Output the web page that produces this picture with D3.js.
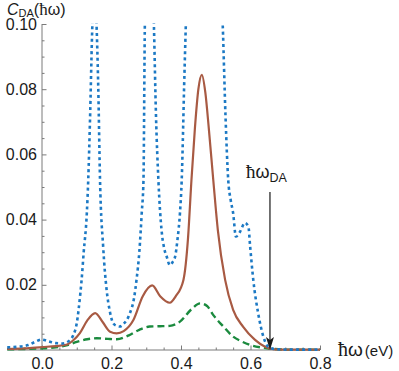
<!DOCTYPE html>
<html><head><meta charset="utf-8">
<script src="https://cdn.jsdelivr.net/npm/d3@7"></script>
<style>
body{margin:0;background:#fff;}
svg{display:block;font-family:"Liberation Sans",Arial,sans-serif;}
</style></head>
<body>
<svg id="c" width="399" height="371"></svg>
<script>
// Data
const blueX = [-0.10,-0.07,-0.04,-0.02,0.00,0.02,0.04,0.06,0.08,0.09,0.10,0.11,0.114,0.12,0.129,0.133,0.138,0.145,0.15,0.155,0.162,0.167,0.176,0.186,0.195,0.205,0.215,0.224,0.235,0.253,0.265,0.272,0.28,0.287,0.292,0.296,0.303,0.31,0.316,0.322,0.328,0.335,0.344,0.352,0.359,0.368,0.376,0.383,0.39,0.397,0.402,0.41,0.42,0.44,0.47,0.50,0.512,0.52,0.528,0.536,0.543,0.55,0.558,0.57,0.584,0.594,0.599,0.608,0.622,0.637,0.651,0.67,0.72,0.80];
const blueY = [0.0008,0.0010,0.0015,0.0025,0.0032,0.0026,0.0021,0.0020,0.0030,0.0045,0.0082,0.0170,0.0215,0.0300,0.0420,0.0520,0.0700,0.1000,0.1120,0.1050,0.0800,0.0520,0.0317,0.0184,0.0120,0.0082,0.0074,0.0072,0.0080,0.0113,0.0160,0.0215,0.0300,0.0420,0.0520,0.1000,0.1250,0.1320,0.1250,0.1000,0.0720,0.0520,0.0368,0.0310,0.0286,0.0260,0.0270,0.0286,0.0340,0.0420,0.0520,0.0850,0.1200,0.1500,0.1600,0.1450,0.1200,0.1000,0.0720,0.0520,0.0460,0.0420,0.0348,0.0363,0.0390,0.0378,0.0317,0.0215,0.0113,0.0041,0.0010,0.0003,0.0001,0.0001];

const brownX = [-0.10,-0.05,0.00,0.04,0.07,0.09,0.109,0.13,0.153,0.175,0.196,0.215,0.235,0.263,0.29,0.317,0.34,0.368,0.385,0.407,0.42,0.43,0.44,0.45,0.46,0.47,0.48,0.493,0.506,0.527,0.55,0.579,0.613,0.642,0.67,0.72,0.80];
const brownY = [0.0003,0.0005,0.0009,0.0012,0.0016,0.0030,0.0052,0.0090,0.0113,0.0085,0.0056,0.0051,0.0058,0.0092,0.0165,0.0198,0.0165,0.0145,0.0165,0.0215,0.0340,0.0520,0.0680,0.0800,0.0844,0.0790,0.0680,0.0520,0.0368,0.0215,0.0123,0.0071,0.0031,0.0010,0.0002,0.0001,0.0001];

const greenX = [-0.10,-0.05,0.00,0.04,0.07,0.10,0.13,0.158,0.19,0.215,0.25,0.28,0.31,0.34,0.368,0.397,0.43,0.455,0.475,0.493,0.522,0.55,0.575,0.60,0.63,0.66,0.72,0.80];
const greenY = [0.0002,0.0003,0.0005,0.0008,0.0014,0.0025,0.0033,0.0036,0.0034,0.0033,0.0045,0.0062,0.0072,0.0073,0.0074,0.0087,0.0125,0.0143,0.0135,0.0107,0.0072,0.0041,0.0026,0.0015,0.0008,0.0004,0.0001,0.0001];

const yMajorTicks = [0.02,0.04,0.06,0.08,0.10];
const xMajorTicks = [0.0,0.2,0.4,0.6,0.8];
const arrowX = 0.656;

const svg = d3.select("#c");
const x = d3.scaleLinear().domain([-0.1,0.8]).range([7.25,320]);
const y = d3.scaleLinear().domain([0,0.1]).range([350,24]);

const axisColor = "#7a7a7a";

// clip
svg.append("defs").append("clipPath").attr("id","clip")
  .append("rect").attr("x",0).attr("y",y(0.1)-0.5).attr("width",399).attr("height",y(0)-y(0.1)+5);

// Y axis minor
const yMinor = d3.range(0.005,0.1001,0.005).filter(v=>Math.abs(v*50-Math.round(v*50))>1e-6);
const gyMin = svg.append("g").attr("transform",`translate(${x(0)},0)`)
  .call(d3.axisLeft(y).tickValues(yMinor).tickSizeInner(-2.5).tickSizeOuter(0).tickFormat(""));
gyMin.select(".domain").remove();
gyMin.selectAll("line").attr("stroke",axisColor);

const gy = svg.append("g").attr("transform",`translate(${x(0)},0)`)
  .call(d3.axisLeft(y).tickValues(yMajorTicks).tickSizeInner(-4.5).tickSizeOuter(0).tickPadding(5).tickFormat(d3.format(".2f")));
gy.select(".domain").attr("stroke",axisColor).attr("d",`M0,${y(0)}V${y(0.1)}`);
gy.selectAll("line").attr("stroke",axisColor);
gy.selectAll("text").attr("font-size",16).attr("fill","#1a1a1a").attr("font-family","Liberation Sans, Arial, sans-serif");

// X axis
const xMinor = d3.range(-0.1,0.8001,0.05).filter(v=>Math.abs(v*5-Math.round(v*5))>1e-6);
const gxMin = svg.append("g").attr("transform",`translate(0,${y(0)})`)
  .call(d3.axisBottom(x).tickValues(xMinor).tickSizeInner(-2.5).tickSizeOuter(0).tickFormat(""));
gxMin.select(".domain").remove();
gxMin.selectAll("line").attr("stroke",axisColor);

const gx = svg.append("g").attr("transform",`translate(0,${y(0)})`)
  .call(d3.axisBottom(x).tickValues(xMajorTicks).tickSizeInner(-4.5).tickSizeOuter(0).tickPadding(8).tickFormat(d3.format(".1f")));
gx.select(".domain").attr("stroke",axisColor).attr("d",`M${x(-0.1)},0H${x(0.8)}`);
gx.selectAll("line").attr("stroke",axisColor);
gx.selectAll("text").attr("font-size",16).attr("fill","#1a1a1a").attr("dy","0.71em").attr("font-family","Liberation Sans, Arial, sans-serif");

// Curves
const mk = (xs,ys)=>xs.map((v,i)=>[v,ys[i]]);
const line = d3.line().x(d=>x(d[0])).y(d=>y(d[1])).curve(d3.curveMonotoneX);
const plot = svg.append("g").attr("clip-path","url(#clip)");

plot.append("path").datum(mk(greenX,greenY)).attr("d",line)
  .attr("fill","none").attr("stroke","#1b8a3e").attr("stroke-width",2.4).attr("stroke-dasharray","7,4");
plot.append("path").datum(mk(brownX,brownY)).attr("d",line)
  .attr("fill","none").attr("stroke","#a85a43").attr("stroke-width",2.2);
plot.append("path").datum(mk(blueX,blueY)).attr("d",line)
  .attr("fill","none").attr("stroke","#1c79c4").attr("stroke-width",2.6).attr("stroke-dasharray","3,3.2");

// Arrow
const ax = x(arrowX);
svg.append("line").attr("x1",ax).attr("x2",ax).attr("y1",192).attr("y2",y(0)-10)
  .attr("stroke","#2a2a2a").attr("stroke-width",1.3);
svg.append("path").attr("d",`M${ax},${y(0)}L${ax-4},${y(0)-13}L${ax},${y(0)-10}L${ax+4},${y(0)-13}Z`)
  .attr("fill","#1a1a1a");

// Labels
const hbar = "\u0127";
const serif = "Liberation Serif, Times New Roman, serif";
const t1 = svg.append("text").attr("x",246).attr("y",178).attr("font-size",19).attr("fill","#1a1a1a");
t1.append("tspan").attr("font-family",serif).text(hbar);
t1.append("tspan").attr("font-size",18).text("\u03C9");
t1.append("tspan").attr("font-size",12.5).attr("dy",4).text("DA");

const t2 = svg.append("text").attr("x",338).attr("y",356).attr("font-size",20).attr("fill","#1a1a1a");
t2.append("tspan").attr("font-family",serif).text(hbar);
t2.append("tspan").attr("font-size",19).text("\u03C9");
t2.append("tspan").attr("font-size",15).attr("dx",2).text("(eV)");

const t3 = svg.append("text").attr("x",7).attr("y",14.5).attr("font-size",16).attr("fill","#1a1a1a");
t3.append("tspan").attr("font-style","italic").text("C");
t3.append("tspan").attr("font-size",11).attr("dy",2).text("DA");
t3.append("tspan").attr("dy",-2).text("(");
t3.append("tspan").attr("font-family",serif).attr("font-size",17).text(hbar);
t3.append("tspan").text("\u03C9)");
</script>
</body></html>
